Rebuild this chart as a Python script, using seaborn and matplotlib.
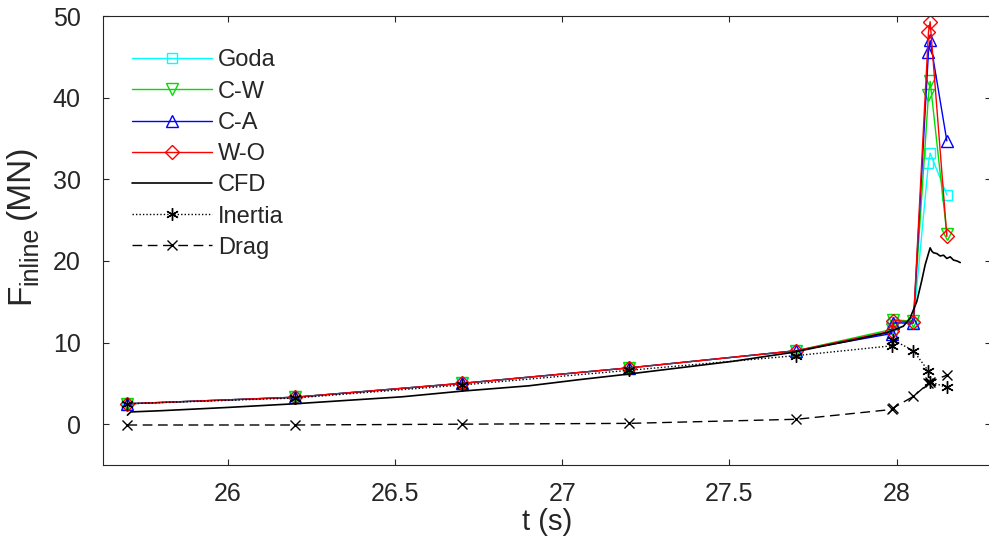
import numpy as np
import pandas as pd
import matplotlib
matplotlib.use("Agg")
import matplotlib.pyplot as plt
import seaborn as sns

# Sample times of the analytical models (s)
t_model = [25.70, 26.20, 26.70, 27.20, 27.70, 27.985, 27.99, 28.05, 28.095, 28.10, 28.15]

# Inline force from each formulation (MN)
goda = [2.5, 3.3, 5.0, 6.9, 9.0, 11.3, 12.5, 12.4, 32.0, 33.2, 28.1]
c_w = [2.5, 3.3, 5.0, 6.9, 9.0, 11.6, 12.8, 12.6, 40.3, 42.0, 23.3]
c_a = [2.5, 3.3, 5.0, 6.9, 9.0, 11.1, 12.4, 12.4, 45.6, 47.0, 34.7]
w_o = [2.5, 3.3, 5.0, 6.9, 9.0, 11.4, 12.7, 12.5, 48.0, 49.3, 23.0]
inertia = [2.5, 3.2, 4.8, 6.6, 8.4, 9.6, 10.3, 9.0, 6.5, 5.2, 4.5]
drag = [-0.1, -0.1, 0.0, 0.1, 0.6, 1.8, 2.0, 3.4, 5.0, 5.2, 6.0]

# CFD time history (s, MN)
t_cfd = [25.70, 25.71, 25.80, 26.00, 26.20, 26.35, 26.52, 26.70, 26.90, 27.05,
         27.19, 27.33, 27.51, 27.69, 27.76, 27.87, 27.97, 28.02, 28.04, 28.06,
         28.075, 28.085, 28.095, 28.10, 28.105, 28.11, 28.12, 28.13, 28.14,
         28.15, 28.16, 28.17, 28.18, 28.19]
cfd = [1.1, 1.5, 1.65, 2.05, 2.5, 2.9, 3.35, 4.05, 4.7, 5.45,
       6.1, 6.8, 7.7, 8.8, 9.4, 10.3, 11.2, 12.0, 13.0, 15.0,
       17.6, 19.5, 20.9, 21.6, 21.2, 21.0, 20.9, 20.6, 20.7,
       20.3, 20.5, 20.1, 20.0, 19.8]

x_ticks = [26, 26.5, 27, 27.5, 28]
y_ticks = [0, 10, 20, 30, 40, 50]

sns.set_theme(style="white")
plt.rcParams["font.family"] = ["Liberation Sans", "DejaVu Sans"]

W, H = 989, 548
fig = plt.figure(figsize=(W / 100, H / 100), dpi=100)
ax = fig.add_axes([103 / W, 83 / H, 888 / W, 449 / H])

text_col = "#262626"
asterisk = (6, 2, 0)
series = [
    ("Goda", goda, dict(color="cyan", marker="s", markersize=7, linestyle="-")),
    ("C-W", c_w, dict(color="#00dd00", marker="v", markersize=9, linestyle="-")),
    ("C-A", c_a, dict(color="blue", marker="^", markersize=9, linestyle="-")),
    ("W-O", w_o, dict(color="red", marker="D", markersize=7, linestyle="-")),
]
for name, vals, kw in series:
    df = pd.DataFrame({"t": t_model, "F": vals})
    sns.lineplot(data=df, x="t", y="F", ax=ax, sort=False, estimator=None,
                 label=name, linewidth=1.0, markerfacecolor="none",
                 markeredgewidth=1.0, markeredgecolor=kw["color"], **kw)

df_cfd = pd.DataFrame({"t": t_cfd, "F": cfd})
sns.lineplot(data=df_cfd, x="t", y="F", ax=ax, sort=False, estimator=None,
             label="CFD", color="black", linewidth=1.2)

df_in = pd.DataFrame({"t": t_model, "F": inertia})
sns.lineplot(data=df_in, x="t", y="F", ax=ax, sort=False, estimator=None,
             label="Inertia", color="black", linewidth=1.0, linestyle=(0, (1, 1.5)),
             marker=asterisk, markersize=9, markeredgewidth=1.0,
             markeredgecolor="black")

df_dr = pd.DataFrame({"t": t_model, "F": drag})
sns.lineplot(data=df_dr, x="t", y="F", ax=ax, sort=False, estimator=None,
             label="Drag", color="black", linewidth=1.0, linestyle=(0, (7, 4)),
             marker="x", markersize=7, markeredgewidth=1.0,
             markeredgecolor="black")

ax.set_xlim(25.627, 28.282)
ax.set_ylim(-5, 50)
ax.set_xticks(x_ticks)
ax.set_xticklabels([f"{v:g}" for v in x_ticks])
ax.set_yticks(y_ticks)

for s in ax.spines.values():
    s.set_color(text_col)
    s.set_linewidth(0.8)
ax.tick_params(direction="in", length=4, width=0.8, colors=text_col,
               labelsize=18, top=True, right=True, bottom=True, left=True)
ax.tick_params(axis="x", pad=12)
ax.tick_params(axis="y", pad=16)

ax.set_xlabel("t (s)", fontsize=21, color=text_col, labelpad=2)
ax.set_ylabel("")

# y-axis label built from pieces: F, subscript "inline", then units
fig.canvas.draw()
r = fig.canvas.get_renderer()
x_base = 36 / W
y_px = H - 304
t1 = fig.text(x_base, y_px / H, "F", rotation=90, ha="right", va="bottom",
              fontsize=24, color=text_col)
h1 = t1.get_window_extent(r).height
y_px += h1 - 1
t2 = fig.text(x_base + 6 / W, y_px / H, "inline", rotation=90, ha="right",
              va="bottom", fontsize=18, color=text_col)
h2 = t2.get_window_extent(r).height
y_px += h2 + 7
fig.text(x_base, y_px / H, "(MN)", rotation=90, ha="right", va="bottom",
         fontsize=24, color=text_col)

leg = ax.legend(loc="upper left", bbox_to_anchor=(0.006, 0.978), frameon=False,
                fontsize=17, handlelength=3.4, handletextpad=0.25,
                labelspacing=0.39, borderaxespad=0.6, numpoints=1)

fig.savefig("out.png", dpi=100)
